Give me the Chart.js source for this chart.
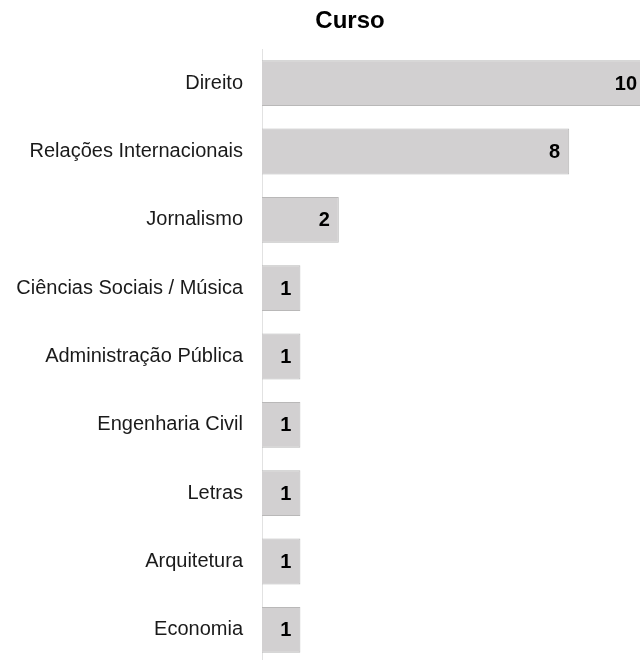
<!DOCTYPE html>
<html>
<head>
<meta charset="utf-8">
<script src="https://cdn.jsdelivr.net/npm/chart.js@4"></script>
<style>
  html, body { margin: 0; padding: 0; background: #fff; overflow: hidden; }
  #wrap { width: 646px; height: 695px; }
</style>
</head>
<body>
<div id="wrap"><canvas id="graficaCurso" width="646" height="695"></canvas></div>
<script>
var titulo = "Curso"
var cursos = ["Direito", "Relações Internacionais", "Jornalismo", "Ciências Sociais / Música", "Administração Pública", "Engenharia Civil", "Letras", "Arquitetura", "Economia"]
var quantidades = [10, 8, 2, 1, 1, 1, 1, 1, 1]

var fonte = "'Liberation Sans', Arial, Helvetica, sans-serif"

// titulo e rotulos dos valores
var pluginTextos = {
    id: 'textos',
    afterDatasetsDraw: function (chart) {
        var ctx = chart.ctx
        ctx.save()
        ctx.fillStyle = '#000'
        ctx.font = "bold 24px " + fonte
        ctx.textAlign = 'center'
        ctx.textBaseline = 'middle'
        ctx.fillText(titulo, 350, 21)

        ctx.font = "bold 20px " + fonte
        ctx.textAlign = 'right'
        var meta = chart.getDatasetMeta(0)
        meta.data.forEach(function (bar, i) {
            ctx.fillText(String(quantidades[i]), Math.min(bar.x, 646) - 9, bar.y + 1)
        })
        ctx.restore()
    }
}

var ctx = document.getElementById('graficaCurso').getContext('2d');

new Chart(ctx, {
    type: 'bar',
    data: {
        labels: cursos,
        datasets: [{
            data: quantidades,
            backgroundColor: '#d2d0d1',
            borderColor: '#b9b8b8',
            borderWidth: 1,
            barPercentage: 0.67,
            categoryPercentage: 1.0
        }]
    },
    options: {
        indexAxis: 'y',
        responsive: false,
        animation: false,
        layout: { padding: { top: 49, right: 0, bottom: 0, left: 0 } },
        plugins: {
            legend: { display: false },
            title: { display: false },
            tooltip: { enabled: false }
        },
        scales: {
            x: {
                display: false,
                min: 0,
                max: 10
            },
            y: {
                grid: { display: false, drawTicks: false },
                border: { display: true, color: '#e2e2e2', width: 1 },
                ticks: {
                    color: '#1a1a1a',
                    padding: 19,
                    font: { family: fonte, size: 20 }
                },
                afterFit: function (scale) { scale.width = 262 }
            }
        }
    },
    plugins: [pluginTextos]
});
</script>
</body>
</html>
